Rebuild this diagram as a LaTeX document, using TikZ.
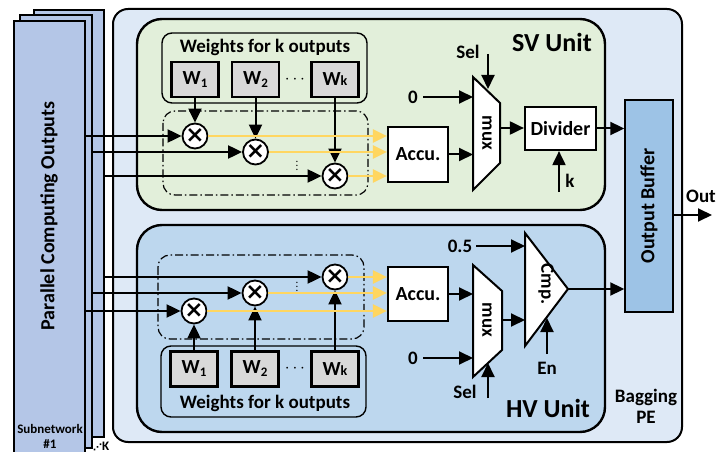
\documentclass[tikz,border=0pt]{standalone}
\usepackage{fontspec}
\setmainfont{Carlito}
\newfontfamily\dejavu{DejaVu Sans}
\usetikzlibrary{arrows.meta}
\definecolor{stackblue}{RGB}{180,198,231}
\definecolor{pefill}{RGB}{222,233,246}
\definecolor{svfill}{RGB}{226,239,218}
\definecolor{hvfill}{RGB}{189,215,238}
\definecolor{buffill}{RGB}{157,195,230}
\definecolor{wfill}{RGB}{217,217,217}
\definecolor{goldline}{RGB}{255,214,96}
\tikzset{
  arr/.style={-{Triangle[length=14pt,width=13pt]}, line width=2pt},
  yarr/.style={-{Triangle[length=14pt,width=13pt]}, line width=2.4pt, draw=goldline, fill=goldline},
  stack/.style={draw, line width=1.4pt, fill=stackblue, inner sep=0pt},
  wbox/.style={draw, line width=2.2pt, fill=wfill, minimum width=47pt, minimum height=35pt, inner sep=0pt, font=\fontsize{20}{22}\selectfont\bfseries},
  mult/.style={circle, draw, line width=1.8pt, fill=white, minimum size=25pt, inner sep=0pt, font=\dejavu\fontsize{23}{23}\selectfont\bfseries},
  plainbox/.style={draw, line width=2.2pt, fill=white, inner sep=0pt, font=\fontsize{20}{22}\selectfont\bfseries},
  lbl/.style={inner sep=0pt, font=\fontsize{19}{20}\selectfont\bfseries},
  unitlbl/.style={inner sep=0pt, font=\fontsize{26}{28}\selectfont\bfseries},
  wgroup/.style={draw, line width=1.4pt, rounded corners=10pt},
  dashgroup/.style={draw, line width=1.2pt, rounded corners=12pt, dash pattern=on 8pt off 3pt on 1.5pt off 3pt},
}
\begin{document}
\begin{tikzpicture}[x=1pt, y=-1pt]
\useasboundingbox (0,0) rectangle (716,452);
\node[stack, minimum width=70pt, minimum height=427pt] (sub3) at (69,223.5) {};
\node[stack, minimum width=72pt, minimum height=433pt] (sub2) at (56,231.5) {};
\node[stack, minimum width=71pt, minimum height=449pt] (sub1) at (49.5,245.5) {};
\node[lbl, rotate=90, font=\fontsize{20}{22}\selectfont\bfseries] (pco) at (49,216) {Parallel Computing Outputs};
\node[lbl, align=center, font=\fontsize{13}{15}\selectfont\bfseries] (subname) at (50,436) {Subnetwork\\\#1};
\node[lbl, anchor=west, font=\fontsize{13}{14}\selectfont\bfseries] (subk) at (93,446) {{\dejavu\fontsize{9}{9}\selectfont ⋰}K};
\draw[line width=2pt, rounded corners=15pt, fill=pefill] (113,9) rectangle (682,442);
\draw[line width=2.4pt, rounded corners=25pt, fill=svfill] (137,19) rectangle (605,210);
\draw[line width=2.4pt, rounded corners=25pt, fill=hvfill] (137,225) rectangle (605,432);
\node[draw, line width=1.4pt, fill=buffill, minimum width=212pt, minimum height=48pt, rotate=90, font=\fontsize{20}{22}\selectfont\bfseries] (buf) at (649,206) {Output Buffer};
\node[lbl, align=center] (bag) at (646,406) {Bagging\\[1pt]PE};
\node[unitlbl] (svname) at (552,42) {SV Unit};
\node[unitlbl] (hvname) at (548,408) {HV Unit};
% SV unit
\draw[wgroup] (162,33) rectangle (367,103);
\node[lbl] (svwt) at (265,47) {Weights for k outputs};
\node[wbox] (svw1) at (195,79.5) {W\raisebox{-3pt}{\fontsize{13}{13}\selectfont 1}};
\node[wbox] (svw2) at (255.5,79.5) {W\raisebox{-3pt}{\fontsize{13}{13}\selectfont 2}};
\node[wbox] (svwk) at (335,79.5) {W{\fontsize{14}{14}\selectfont k}};
\node[lbl] (svhdots) at (295,80) {$\cdots$};
\draw[dashgroup] (163,111) rectangle (368,195);
\node[mult] (svm1) at (195,136) {×};
\node[mult] (svm2) at (255.5,152) {×};
\node[mult] (svmk) at (335,176) {×};
\node[lbl, font=\fontsize{11}{11}\selectfont] (svvdots) at (297,163) {$\vdots$};
\draw[arr] (svw1) -- (svm1);
\draw[arr] (svw2) -- (svm2);
\draw[arr] (svwk) -- (svmk);
\draw[arr] (sub1.east |- svm1) -- (svm1);
\draw[arr] (sub2.east |- svm2) -- (svm2);
\draw[arr] (sub3.east |- svmk) -- (svmk);
\node[plainbox, minimum width=60pt, minimum height=55pt] (svacc) at (418,154.5) {Accu.};
\draw[yarr] (svm1.east) -- (svm1 -| svacc.west);
\draw[yarr] (svm2.east) -- (svm2 -| svacc.west);
\draw[yarr] (svmk.east) -- (svmk -| svacc.west);
\draw[line width=2pt, fill=white] (473,77) -- (500,103) -- (500,163) -- (473,190) -- cycle;
\node[lbl, rotate=-90] (svmux) at (487,133) {mux};
\coordinate (svmuxin) at (473,133);
\coordinate (svmuxout) at (500,128);
\node[lbl] (svzero) at (413,97) {0};
\draw[arr] (svzero.east) ++(5,0) -- (svzero -| svmuxin);
\draw[arr] (svacc.east) -- (svacc -| svmuxin);
\node[lbl] (svsel) at (468,52) {Sel};
\coordinate (svselin) at (488,54);
\coordinate (svselend) at (488,89);
\draw[arr] (svselin) -- (svselend);
\node[plainbox, minimum width=71pt, minimum height=43pt] (svdiv) at (560.5,128.5) {Divider};
\draw[arr] (svmuxout) -- (svmuxout -| svdiv.west);
\draw[arr] (svdiv.east) -- (svdiv.east -| buf.north);
\node[lbl] (svk) at (570,181) {k};
\coordinate (svkin) at (559,192);
\draw[arr] (svkin) -- (svkin |- svdiv.south);
% HV unit
\draw[wgroup] (161,346) rectangle (366,417);
\node[lbl] (hvwt) at (265,403) {Weights for k outputs};
\node[wbox] (hvw1) at (194,369) {W\raisebox{-3pt}{\fontsize{13}{13}\selectfont 1}};
\node[wbox] (hvw2) at (255,369) {W\raisebox{-3pt}{\fontsize{13}{13}\selectfont 2}};
\node[wbox] (hvwk) at (335,369) {W{\fontsize{14}{14}\selectfont k}};
\node[lbl] (hvhdots) at (295,369) {$\cdots$};
\draw[dashgroup] (158,255) rectangle (364,339);
\node[mult] (hvm1) at (194,311) {×};
\node[mult] (hvm2) at (255,293) {×};
\node[mult] (hvmk) at (335,277) {×};
\node[lbl, font=\fontsize{11}{11}\selectfont] (hvvdots) at (297,284) {$\vdots$};
\draw[arr] (hvw1) -- (hvm1);
\draw[arr] (hvw2) -- (hvm2);
\draw[arr] (hvwk) -- (hvmk);
\draw[arr] (sub1.east |- hvm1) -- (hvm1);
\draw[arr] (sub2.east |- hvm2) -- (hvm2);
\draw[arr] (sub3.east |- hvmk) -- (hvmk);
\node[plainbox, minimum width=60pt, minimum height=54pt] (hvacc) at (418,294) {Accu.};
\draw[yarr] (hvm1.east) -- (hvm1 -| hvacc.west);
\draw[yarr] (hvm2.east) -- (hvm2 -| hvacc.west);
\draw[yarr] (hvmk.east) -- (hvmk -| hvacc.west);
\draw[line width=2pt, fill=white] (473,265) -- (502,291) -- (502,350) -- (473,377) -- cycle;
\node[lbl, rotate=-90] (hvmux) at (487,320) {mux};
\coordinate (hvmuxin) at (473,321);
\coordinate (hvmuxout) at (502,320);
\draw[arr] (hvacc.east) -- (hvacc -| hvmuxin);
\node[lbl] (hvzero) at (413,358) {0};
\draw[arr] (hvzero.east) ++(5,0) -- (hvzero -| hvmuxin);
\node[lbl] (hvsel) at (465,392) {Sel};
\coordinate (hvselin) at (488,398);
\coordinate (hvselend) at (488,363);
\draw[arr] (hvselin) -- (hvselend);
\draw[line width=2pt, fill=white] (525,233) -- (568,289) -- (525,346) -- cycle;
\node[lbl, rotate=-90] (cmp) at (546,284) {Cmp.};
\coordinate (cmpin) at (525,289);
\coordinate (cmpout) at (568,289);
\draw[arr] (hvmuxout) -- (hvmuxout -| cmpin);
\node[lbl] (half) at (460,246) {0.5};
\draw[arr] (half.east) ++(4,0) -- (half -| cmpin);
\node[lbl] (en) at (547,368) {En};
\coordinate (enin) at (547,354);
\coordinate (enend) at (547,318);
\draw[arr] (enin) -- (enend);
\draw[arr] (cmpout) -- (cmpout -| buf.north);
\coordinate (outend) at (712,215);
\draw[arr] (outend -| buf.south) -- (outend);
\node[lbl] (out) at (701,196) {Out};
\end{tikzpicture}
\end{document}
